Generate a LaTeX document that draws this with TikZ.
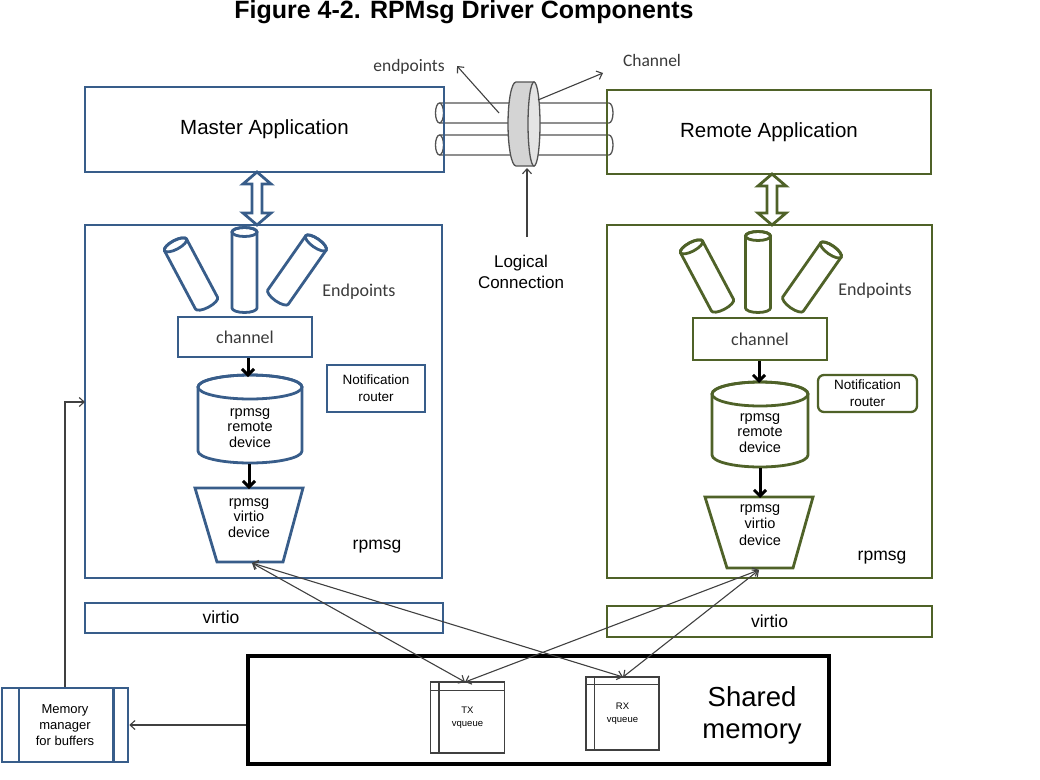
\documentclass[tikz,border=0pt]{standalone}
\usepackage{fontspec}
\setmainfont{Liberation Sans}
\newfontfamily\carl{Carlito}
\usetikzlibrary{arrows.meta,calc}
\definecolor{mblue}{HTML}{385D8A}
\definecolor{rgreen}{HTML}{4F6228}
\definecolor{lgray}{HTML}{404040}
\definecolor{tgray}{HTML}{3A3A3A}
\definecolor{diskA}{HTML}{D4D4D4}
\definecolor{diskB}{HTML}{E4E4E4}
\begin{document}
\begin{tikzpicture}[x=1pt,y=-1pt,
  fs/.style={font=\fontsize{#1}{#1}\selectfont},
  bbox/.style={draw=mblue, line width=2.9pt, inner sep=0pt},
  gbox/.style={draw=rgreen, line width=2.9pt, inner sep=0pt},
  thinline/.style={draw=lgray, line width=1.1pt},
  thinarrow/.style={thinline, -{Straight Barb[length=5pt,width=9pt]}},
  biarrow/.style={thinline, {Straight Barb[length=5pt,width=9pt]}-{Straight Barb[length=5pt,width=9pt]}},
  thickarrow/.style={draw=black, line width=3pt, -{Straight Barb[length=6pt,width=12pt]}},
  tubeline/.style={draw=lgray!90, line width=1.3pt},
  cal/.style={font=\carl\fontsize{#1}{#1}\selectfont, text=tgray},
  pics/tube/.style n args={2}{code={
    \draw[line width=2.8pt, draw=#2, fill=white] (-12.5,-#1/2) -- (-12.5,#1/2)
      arc[start angle=180,end angle=0,x radius=12.5,y radius=4.5] -- (12.5,-#1/2)
      arc[start angle=0,end angle=-180,x radius=12.5,y radius=4.5] -- cycle;
    \draw[line width=2.8pt, draw=#2] (0,-#1/2) ellipse[x radius=12.5,y radius=4.5];
  }},
  dblarrow/.style={line width=2.8pt, fill=white, line join=miter}
]
\useasboundingbox (0,0) rectangle (1040,779);

% title
\node[font=\bfseries\fontsize{25}{28}\selectfont] (title) at (464,12) {Figure 4-2. RPMsg Driver Components};

% logical connection tubes
\draw[tubeline] (439.5,103) -- (609,103) arc[start angle=-90,end angle=90,x radius=4,y radius=10] -- (439.5,123);
\draw[tubeline] (439.5,113) ellipse[x radius=4,y radius=10];
\draw[tubeline] (439.5,135) -- (609,135) arc[start angle=-90,end angle=90,x radius=4,y radius=10] -- (439.5,155);
\draw[tubeline] (439.5,145) ellipse[x radius=4,y radius=10];
% disk
\draw[tubeline, fill=diskA] (516,82) -- (534,82) -- (534,166) -- (516,166)
   arc[start angle=90,end angle=270,x radius=8,y radius=42] -- cycle;
\draw[tubeline, fill=diskB] (534,124) ellipse[x radius=6,y radius=42];

% application boxes
\node[bbox, minimum width=359pt, minimum height=85pt, fs=20.5] (master) at (264.5,129.5) {Master Application};
\node[gbox, minimum width=324pt, minimum height=84pt, fs=20.5] (remote) at (769,132) {Remote Application};

% labels at top
\node[cal=17.5] (eplabel) at (409,67) {endpoints};
\node[cal=17.5] (chlabel) at (652,60) {Channel};
\coordinate (eptail) at (499,113);
\coordinate (eptip) at (457,66);
\coordinate (chtail) at (538,100);
\coordinate (chtip) at (603,73);
\draw[thinarrow] (eptail) -- (eptip);
\draw[thinarrow] (chtail) -- (chtip);
\node[align=center, font=\fontsize{17}{21}\selectfont] (lc) at (521,272) {Logical\\Connection};
\coordinate (lctail) at (527,237);
\coordinate (diskb) at (527,168);
\draw[thinarrow] (lctail) -- (diskb);

% rpmsg boxes
\node[bbox, minimum width=357pt, minimum height=353pt] (lrp) at (263.5,401.5) {};
\node[gbox, minimum width=325pt, minimum height=353pt] (rrp) at (769.5,401.5) {};

% hollow double arrows
\begin{scope}[shift={(257,172)}]
\draw[dblarrow, draw=mblue] (0,0) -- (14,12) -- (5,12) -- (5,41) -- (14,41) -- (0,53) -- (-14,41) -- (-5,41) -- (-5,12) -- (-14,12) -- cycle;
\end{scope}
\begin{scope}[shift={(772,174)}]
\draw[dblarrow, draw=rgreen] (0,0) -- (14,12) -- (5,12) -- (5,39) -- (14,39) -- (0,51) -- (-14,39) -- (-5,39) -- (-5,12) -- (-14,12) -- cycle;
\end{scope}

% endpoints tubes
\pic[rotate=28] at (191,274) {tube={66}{mblue}};
\pic at (244.5,270) {tube={76}{mblue}};
\pic[rotate=-35] at (297,270) {tube={66}{mblue}};
\pic[rotate=28] at (707,276) {tube={66}{rgreen}};
\pic at (758,272) {tube={72}{rgreen}};
\pic[rotate=-35] at (812,277) {tube={66}{rgreen}};
\node[cal=18] (lep) at (359,292) {Endpoints};
\node[cal=18] (rep) at (875,291) {Endpoints};

% channels
\node[bbox, minimum width=134pt, minimum height=40pt, cal=18] (lch) at (245,337) {channel};
\node[gbox, minimum width=134pt, minimum height=42pt, cal=18] (rch) at (760,339) {channel};

% notification routers
\node[bbox, line width=2.3pt, minimum width=98pt, minimum height=47pt, align=center, font=\fontsize{13.5}{17}\selectfont] (lnr) at (376,388.5) {Notification\\router};
\node[gbox, line width=2.3pt, rounded corners=6pt, minimum width=99pt, minimum height=37pt, align=center, font=\fontsize{13.5}{17}\selectfont] (rnr) at (867.5,393.5) {Notification\\router};

% remote device cylinders
\draw[draw=mblue, line width=2.8pt, fill=white] (198,387) -- (198,451) arc[start angle=180,end angle=0,x radius=52,y radius=12]
  -- (302,387) arc[start angle=0,end angle=-180,x radius=52,y radius=12] -- cycle;
\draw[draw=mblue, line width=2.8pt] (250,387) ellipse[x radius=52,y radius=12];
\node[align=center, font=\fontsize{14.5}{15.5}\selectfont] (lrd) at (250,428) {rpmsg\\remote\\device};
\draw[draw=rgreen, line width=2.8pt, fill=white] (712,394) -- (712,455) arc[start angle=180,end angle=0,x radius=48,y radius=12]
  -- (808,394) arc[start angle=0,end angle=-180,x radius=48,y radius=12] -- cycle;
\draw[draw=rgreen, line width=2.8pt] (760,394) ellipse[x radius=48,y radius=12];
\node[align=center, font=\fontsize{14.5}{15.5}\selectfont] (rrd) at (760,433) {rpmsg\\remote\\device};

% virtio devices (trapezoids)
\draw[draw=mblue, line width=2.8pt, line join=miter] (195,488) -- (303,488) -- (283,562) -- (217,562) -- cycle;
\node[align=center, font=\fontsize{14.5}{15.5}\selectfont] (ldev) at (249,518) {rpmsg\\virtio\\device};
\draw[draw=rgreen, line width=2.8pt, line join=miter] (705,497) -- (813,497) -- (793,568) -- (727,568) -- cycle;
\node[align=center, font=\fontsize{14.5}{16.5}\selectfont] (rdev) at (760,525) {rpmsg\\virtio\\device};

% thick internal arrows
\coordinate (lrdtop) at (248,377);
\coordinate (lrdbot) at (249,464);
\coordinate (ldevtop) at (249,489);
\coordinate (rrdtop) at (759,383);
\coordinate (rrdbot) at (760,468);
\coordinate (rdevtop) at (760,498);
\draw[thickarrow] (lch.south -| lrdtop) -- (lrdtop);
\draw[thickarrow] (lrdbot) -- (ldevtop);
\draw[thickarrow] (rch.south -| rrdtop) -- (rrdtop);
\draw[thickarrow] (rrdbot) -- (rdevtop);

\node[fs=17.5] (lrpl) at (377,547) {rpmsg};
\node[fs=17.5] (rrpl) at (882,558) {rpmsg};

% virtio bars
\node[bbox, minimum width=358pt, minimum height=30pt] (lvirt) at (264,618) {};
\node[fs=17.5] (lvirtl) at (221,617) {virtio};
\node[gbox, minimum width=325pt, minimum height=31pt, fs=17.5] (rvirt) at (769.5,621.5) {virtio};

% shared memory
\node[draw=black, line width=3.2pt, minimum width=581pt, minimum height=108pt, inner sep=0pt] (shm) at (538.5,710) {};
\node[align=center, font=\fontsize{27.5}{32}\selectfont] (shml) at (752,715) {Shared\\memory};

% vqueues
\node[draw=lgray, line width=1.1pt, minimum width=74pt, minimum height=71pt, inner sep=0pt, align=center, font=\fontsize{9.5}{13}\selectfont] (tx) at (467.5,717.5) {TX\\vqueue};
\draw[draw=lgray, line width=1.1pt] ($(tx.north west)+(9,0)$) -- ($(tx.south west)+(9,0)$);
\draw[draw=lgray, line width=1.1pt] ($(tx.north west)+(0,9)$) -- ($(tx.north east)+(0,9)$);
\node[draw=lgray, line width=1.1pt, minimum width=73pt, minimum height=73pt, inner sep=0pt, align=center, font=\fontsize{9.5}{13}\selectfont] (rx) at (622.5,713.5) {RX\\vqueue};
\draw[draw=lgray, line width=1.1pt] ($(rx.north west)+(9,0)$) -- ($(rx.south west)+(9,0)$);
\draw[draw=lgray, line width=1.1pt] ($(rx.north west)+(0,8)$) -- ($(rx.north east)+(0,8)$);

% memory manager
\node[bbox, line width=2.5pt, minimum width=126pt, minimum height=74pt, align=center, font=\fontsize{13}{16}\selectfont] (mm) at (65,725) {Memory\\manager\\for buffers};
\draw[draw=mblue, line width=2.5pt] ($(mm.north west)+(18,0)$) -- ($(mm.south west)+(18,0)$);
\draw[draw=mblue, line width=2.5pt] ($(mm.north east)+(-16,0)$) -- ($(mm.south east)+(-16,0)$);

% thin connectors
\coordinate (ldevb) at (252,563);
\coordinate (rdevb) at (759,570);
\coordinate (txt) at (465,682);
\coordinate (rxt) at (623,677);
\draw[biarrow] (ldevb) -- (txt);
\draw[biarrow] (ldevb) -- (rxt);
\draw[biarrow] (rdevb) -- (txt);
\draw[biarrow] (rdevb) -- (rxt);
\draw[thinarrow] (mm.east -| shm.west) -- (mm.east);
\coordinate (mmin) at (85,402);
\draw[thinarrow] (mm.north) |- (mmin);
\end{tikzpicture}
\end{document}
